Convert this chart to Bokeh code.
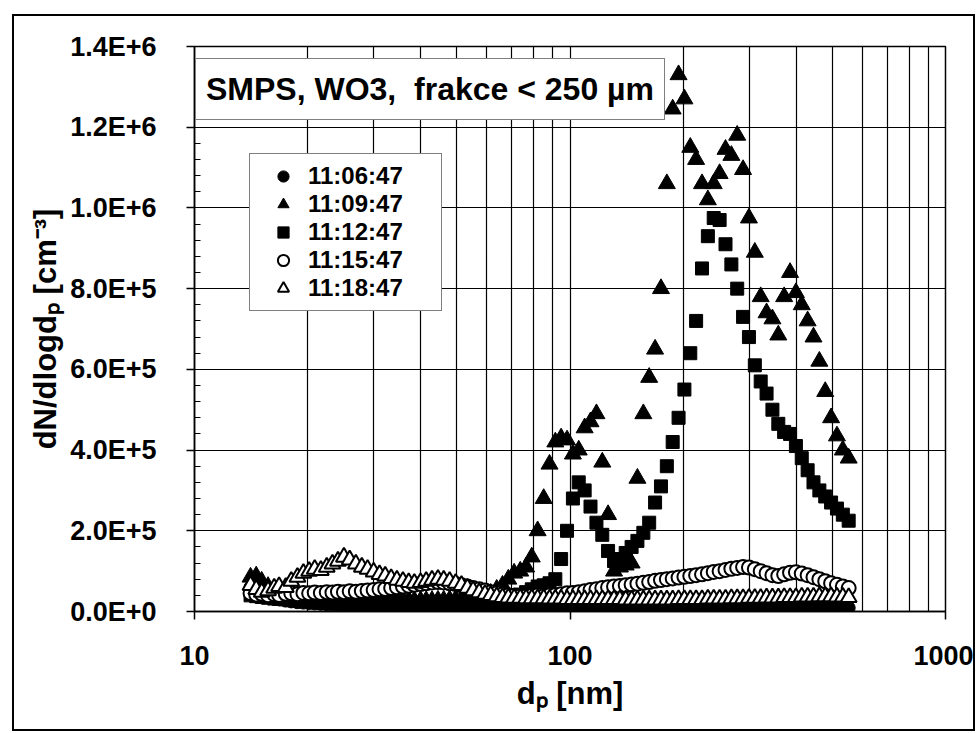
from bokeh.plotting import figure
from bokeh.models import Range1d, FixedTicker, Legend, LegendItem
from bokeh.embed import file_html
from bokeh.resources import INLINE

# SMPS channel midpoints (nm)
diameter_nm = [14.1, 14.6, 15.1, 15.7, 16.3, 16.8, 17.5, 18.1, 18.8, 19.5,
               20.2, 20.9, 21.7, 22.5, 23.3, 24.1, 25.0, 25.9, 26.9, 27.9,
               28.9, 30.0, 31.1, 32.2, 33.4, 34.6, 35.9, 37.2, 38.5, 40.0,
               41.4, 42.9, 44.5, 46.1, 47.8, 49.6, 51.4, 53.3, 55.2, 57.3,
               59.4, 61.5, 63.8, 66.1, 68.5, 71.0, 73.7, 76.4, 79.1, 82.0,
               85.1, 88.2, 91.4, 94.7, 98.2, 101.8, 105.5, 109.4, 113.4, 117.6,
               121.9, 126.3, 131.0, 135.8, 140.7, 145.9, 151.2, 156.8, 162.5, 168.5,
               174.7, 181.1, 187.7, 194.6, 201.7, 209.1, 216.7, 224.7, 232.9, 241.4,
               250.3, 259.5, 269.0, 278.8, 289.0, 299.6, 310.6, 322.0, 333.8, 346.0,
               358.7, 371.8, 385.5, 399.6, 414.2, 429.4, 445.1, 461.4, 478.3, 495.8,
               514.0, 532.8, 552.3]

n_110647 = [60000, 52000, 45000, 38000, 33000, 30000, 27000, 25000, 23000, 22000,
            21000, 20000, 19000, 18000, 18000, 17000, 17000, 16000, 16000, 16000,
            15000, 15000, 15000, 14000, 14000, 14000, 14000, 13000, 13000, 13000,
            13000, 13000, 12000, 12000, 12000, 12000, 12000, 11000, 11000, 11000,
            11000, 11000, 11000, 10000, 10000, 10000, 10000, 10000, 10000, 10000,
            10000, 10000, 10000, 10000, 10000, 10000, 9000, 9000, 9000, 9000,
            9000, 9000, 9000, 9000, 9000, 9000, 9000, 9000, 9000, 9000,
            9000, 9000, 9000, 9000, 9000, 9000, 9000, 9000, 9000, 9000,
            9000, 9000, 9000, 9000, 9000, 9000, 9000, 9000, 9000, 9000,
            9000, 9000, 9000, 9000, 9000, 9000, 9000, 9000, 9000, 9000,
            9000, 9000, 9000]

n_110947 = [85000, 88000, 75000, 62000, 55000, 48000, 45000, 42000, 40000, 38000,
            36000, 35000, 34000, 33000, 33000, 32000, 32000, 31000, 31000, 30000,
            30000, 30000, 29000, 29000, 29000, 28000, 28000, 28000, 27000, 27000,
            27000, 27000, 28000, 28000, 29000, 30000, 31000, 33000, 35000, 38000,
            42000, 45000, 55000, 65000, 80000, 95000, 100000, 110000, 135000, 200000,
            280000, 365000, 420000, 430000, 425000, 390000, 400000, 455000, 470000, 490000,
            370000, 240000, 100000, 110000, 115000, 120000, 330000, 490000, 580000, 650000,
            800000, 1060000, 1245000, 1330000, 1270000, 1150000, 1120000, 1060000, 1020000, 1060000,
            1085000, 1145000, 1130000, 1180000, 1095000, 975000, 890000, 780000, 740000, 725000,
            685000, 780000, 840000, 790000, 760000, 720000, 680000, 620000, 545000, 480000,
            435000, 400000, 380000]

n_111247 = [40000, 38000, 36000, 34000, 32000, 31000, 30000, 29000, 28000, 27000,
            26000, 26000, 25000, 25000, 24000, 24000, 24000, 23000, 23000, 23000,
            22000, 22000, 22000, 21000, 21000, 21000, 20000, 20000, 20000, 20000,
            20000, 20000, 20000, 20000, 20000, 21000, 21000, 22000, 22000, 23000,
            24000, 25000, 27000, 30000, 33000, 37000, 42000, 48000, 55000, 62000,
            65000, 70000, 80000, 130000, 200000, 280000, 320000, 300000, 260000, 220000,
            190000, 150000, 125000, 130000, 145000, 160000, 175000, 195000, 220000, 270000,
            310000, 360000, 420000, 480000, 550000, 640000, 720000, 850000, 930000, 975000,
            970000, 910000, 860000, 800000, 730000, 680000, 610000, 570000, 540000, 500000,
            465000, 445000, 440000, 410000, 380000, 350000, 320000, 300000, 285000, 270000,
            255000, 240000, 225000]

n_111547 = [45000, 42000, 44000, 40000, 43000, 41000, 44000, 45000, 43000, 46000,
            45000, 47000, 46000, 48000, 47000, 49000, 48000, 50000, 49000, 51000,
            52000, 53000, 55000, 56000, 58000, 60000, 62000, 64000, 66000, 68000,
            70000, 72000, 73000, 72000, 70000, 68000, 65000, 62000, 58000, 55000,
            52000, 48000, 45000, 42000, 40000, 39000, 38000, 38000, 39000, 40000,
            38000, 40000, 41000, 43000, 45000, 46000, 48000, 50000, 53000, 55000,
            58000, 60000, 62000, 63000, 65000, 67000, 69000, 71000, 73000, 76000,
            78000, 80000, 82000, 84000, 86000, 88000, 90000, 92000, 95000, 98000,
            100000, 103000, 106000, 108000, 110000, 109000, 105000, 100000, 95000, 90000,
            88000, 92000, 96000, 97000, 94000, 90000, 85000, 80000, 75000, 70000,
            66000, 62000, 58000]

n_111847 = [65000, 55000, 48000, 52000, 58000, 62000, 60000, 75000, 85000, 95000,
            100000, 105000, 102000, 110000, 118000, 125000, 135000, 128000, 118000, 110000,
            105000, 98000, 92000, 88000, 82000, 78000, 75000, 72000, 70000, 72000,
            75000, 78000, 80000, 78000, 75000, 70000, 65000, 58000, 52000, 47000,
            43000, 40000, 37000, 35000, 34000, 33000, 33000, 32000, 32000, 32000,
            32000, 31000, 31000, 31000, 30000, 30000, 30000, 30000, 30000, 30000,
            30000, 30000, 30000, 30000, 29000, 29000, 29000, 29000, 29000, 29000,
            29000, 29000, 29000, 30000, 30000, 30000, 30000, 30000, 31000, 31000,
            31000, 31000, 32000, 32000, 32000, 33000, 33000, 33000, 34000, 34000,
            34000, 35000, 35000, 35000, 36000, 36000, 36000, 37000, 37000, 37000,
            36000, 36000, 35000]

series_names = ["11:06:47", "11:09:47", "11:12:47", "11:15:47", "11:18:47"]
y_ticks = [0, 200000, 400000, 600000, 800000, 1000000, 1200000, 1400000]
y_tick_labels = ["0.0E+0", "2.0E+5", "4.0E+5", "6.0E+5", "8.0E+5", "1.0E+6", "1.2E+6", "1.4E+6"]
x_ticks = [10, 100, 1000]
x_tick_labels = ["10", "100", "1000"]
title_text = "SMPS, WO3,  frakce < 250 µm"

FONT = "Liberation Sans"

p = figure(width=963, height=717, x_axis_type="log",
           x_range=Range1d(10, 1000), y_range=Range1d(0, 1400000),
           output_backend="svg", toolbar_location=None,
           min_border_left=180, min_border_right=32,
           min_border_top=30, min_border_bottom=122)
p.margin = (14, 0, 0, 12)
p.styles = {"border": "2px solid black"}
p.background_fill_color = "white"
p.border_fill_color = "white"
p.outline_line_color = "black"
p.outline_line_width = 1.5
p.outline_line_alpha = 1.0

# grids
grid_x = [m * 10 ** e for e in (1, 2) for m in range(2, 10)] + [100]
p.xgrid.ticker = FixedTicker(ticks=grid_x)
p.ygrid.ticker = FixedTicker(ticks=y_ticks)
for g in (p.xgrid, p.ygrid):
    g.grid_line_color = "black"
    g.grid_line_width = 1.2
    g.grid_line_alpha = 1.0

# axes
step = (y_ticks[1] - y_ticks[0]) / 5
y_minor = [y_ticks[0] + i * step for i in range(1, 35) if i % 5]
p.yaxis.ticker = FixedTicker(ticks=y_ticks, minor_ticks=y_minor)
p.yaxis.major_label_overrides = dict(zip(y_ticks, y_tick_labels))
p.xaxis.ticker = FixedTicker(ticks=x_ticks)
p.xaxis.major_label_overrides = dict(zip(x_ticks, x_tick_labels))

for ax in (p.xaxis, p.yaxis):
    ax.axis_line_color = "black"
    ax.axis_line_width = 1.5
    ax.major_tick_line_color = "black"
    ax.major_tick_line_width = 1.5
    ax.minor_tick_line_color = "black"
    ax.minor_tick_line_width = 1.2
    ax.major_tick_out = 8
    ax.major_tick_in = 0
    ax.major_label_text_font = FONT
    ax.major_label_text_font_style = "bold"
    ax.major_label_text_font_size = "27px"
    ax.major_label_text_color = "black"
    ax.axis_label_text_font = FONT
    ax.axis_label_text_font_style = "bold"
    ax.axis_label_text_font_size = "31px"
    ax.axis_label_text_color = "black"

p.xaxis.minor_tick_in = 0
p.xaxis.minor_tick_out = 0
p.yaxis.minor_tick_in = 6
p.yaxis.minor_tick_out = 0
p.xaxis.major_label_standoff = 26
p.xaxis.axis_label_standoff = 8
p.yaxis.major_label_standoff = 30
p.yaxis.axis_label_standoff = 4
p.xaxis.axis_label = "dₚ [nm]"
p.yaxis.axis_label = "dN/dlogdₚ [cm⁻³]"

# series
r1 = p.scatter(diameter_nm, n_110647, marker="circle", size=13,
               fill_color="black", line_color="black")
r2 = p.scatter(diameter_nm, n_110947, marker="triangle", size=17,
               fill_color="black", line_color="black")
r3 = p.scatter(diameter_nm, n_111247, marker="square", size=13,
               fill_color="black", line_color="black")
r4 = p.scatter(diameter_nm, n_111547, marker="circle", size=14,
               fill_color="white", line_color="black", line_width=2)
r5 = p.scatter(diameter_nm, n_111847, marker="triangle", size=16,
               fill_color="white", line_color="black", line_width=2)

legend = Legend(items=[LegendItem(label=n, renderers=[r])
                       for n, r in zip(series_names, [r1, r2, r3, r4, r5])],
                location=(55, 300))
legend.label_text_font = FONT
legend.label_text_font_style = "bold"
legend.label_text_font_size = "24px"
legend.label_text_color = "black"
legend.border_line_color = "black"
legend.border_line_width = 1.5
legend.background_fill_color = "white"
legend.background_fill_alpha = 1.0
legend.padding = 8
legend.spacing = 0
legend.margin = 0
legend.glyph_width = 50
legend.glyph_height = 28
legend.label_height = 28
legend.label_standoff = 0
legend.label_width = 125
p.add_layout(legend)

# title box drawn as a label-only legend inside the plot frame
r_title = p.scatter([], [], marker="circle", size=0, fill_alpha=0, line_alpha=0)
title_box = Legend(items=[LegendItem(label=title_text, renderers=[r_title])],
                   location=(1, 491))
title_box.label_text_font = FONT
title_box.label_text_font_style = "bold"
title_box.label_text_font_size = "32px"
title_box.label_text_color = "black"
title_box.border_line_color = "black"
title_box.border_line_width = 1.5
title_box.background_fill_color = "white"
title_box.background_fill_alpha = 1.0
title_box.padding = 10
title_box.margin = 0
title_box.spacing = 0
title_box.glyph_width = 0
title_box.glyph_height = 40
title_box.label_height = 40
title_box.label_standoff = 0
p.add_layout(title_box)

open("out.html", "w").write(file_html(p, INLINE))
